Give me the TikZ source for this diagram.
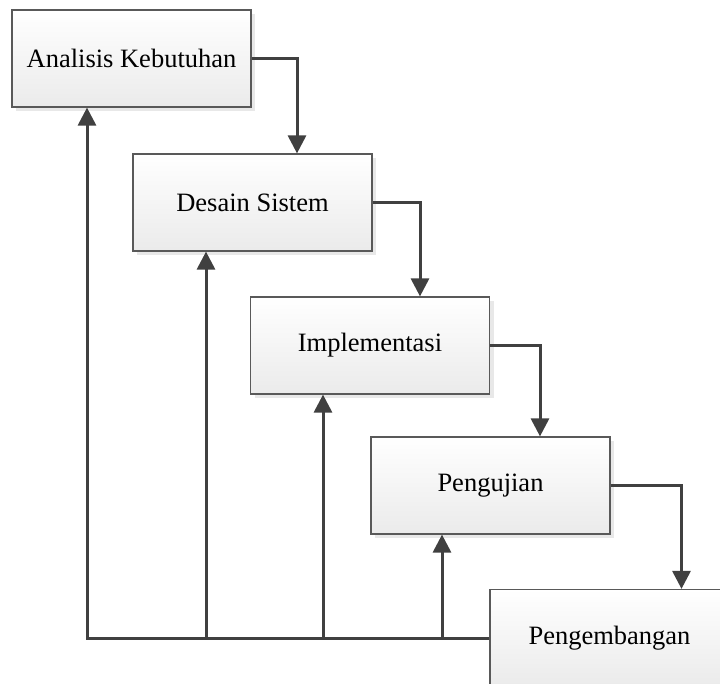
\documentclass[tikz,border=0pt]{standalone}
\usepackage{fontspec}
\setmainfont{Liberation Serif}
\usetikzlibrary{arrows.meta,shadows}
\tikzset{
  phase/.style={draw=black!65, line width=1.2pt, minimum width=239pt, minimum height=97pt,
    top color=white, bottom color=black!8, inner sep=0pt,
    drop shadow={opacity=0.18, shadow xshift=4pt, shadow yshift=-4pt},
    font=\fontsize{26.5}{30}\selectfont},
  flow/.style={draw=black!75, line width=3pt, -{Triangle[width=18pt,length=18pt]}},
  link/.style={draw=black!75, line width=3pt}
}
\begin{document}
\begin{tikzpicture}
\useasboundingbox (0pt,0pt) rectangle (720pt,-684pt);
\node[phase] (ana) at (131.5pt,-58.5pt) {Analisis Kebutuhan};
\node[phase] (des) at (252.5pt,-202.5pt) {Desain Sistem};
\node[phase] (imp) at (370pt,-345.5pt) {Implementasi};
\node[phase] (uji) at (490.5pt,-485.5pt) {Pengujian};
\node[phase] (gen) at (609.5pt,-638pt) {Pengembangan};
% maju ke tahap berikutnya
\draw[flow] (ana.east) -| ([xshift=44.5pt]des.north);
\draw[flow] (des.east) -| ([xshift=50pt]imp.north);
\draw[flow] (imp.east) -| ([xshift=49.5pt]uji.north);
\draw[flow] (uji.east) -| ([xshift=72pt]gen.north);
% umpan balik
\coordinate (fa) at ([xshift=-44.5pt]ana.south);
\coordinate (fd) at ([xshift=-46.5pt]des.south);
\coordinate (fi) at ([xshift=-47pt]imp.south);
\coordinate (fu) at ([xshift=-48.5pt]uji.south);
\draw[flow] (gen.west) -| (fa);
\draw[flow] (fd |- gen.west) -- (fd);
\draw[flow] (fi |- gen.west) -- (fi);
\draw[flow] (fu |- gen.west) -- (fu);
\end{tikzpicture}
\end{document}
